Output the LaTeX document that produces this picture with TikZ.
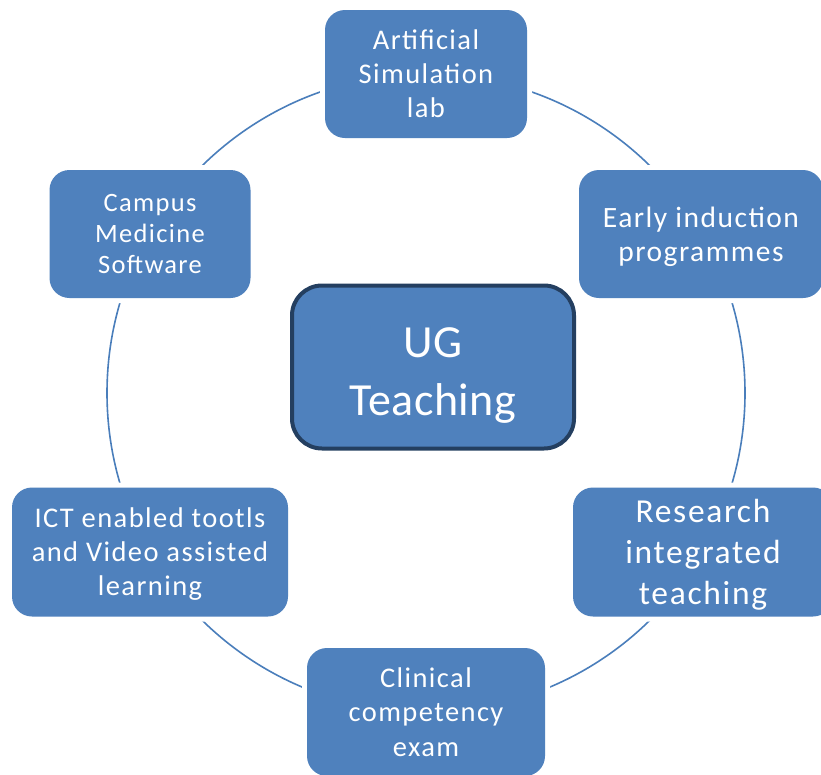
\documentclass[tikz,border=0pt]{standalone}
\usepackage{fontspec}
\setmainfont{Carlito}[LetterSpace=5]
\newfontfamily\hubfont{Carlito}[LetterSpace=1]
\definecolor{boxblue}{HTML}{4F81BD}
\definecolor{ringblue}{HTML}{4A7EBB}
\definecolor{hubnavy}{HTML}{243F60}

\begin{document}
\begin{tikzpicture}[x=1pt, y=-1pt,
  item/.style={fill=boxblue, text=white, align=center, inner sep=0pt,
    text depth=0pt, rounded corners=20pt, minimum height=128pt,
    preaction={draw=white, line width=10pt}},
  ]
  \clip (0,0) rectangle (821,774);

  % ring
  \draw[ringblue, line width=1.6pt] (426,393) circle (319pt);

  % outer boxes
  \node[item, minimum width=202pt, font=\fontsize{28.5}{34}\selectfont]
    (simlab) at (426,74) {Artificial\\Simulation\\lab};
  \node[item, minimum width=244pt, font=\fontsize{29.5}{34}\selectfont]
    (induction) at (701,234) {Early induction\\programmes};
  \node[item, minimum width=260pt, minimum height=129pt, font=\fontsize{33.5}{41}\selectfont]
    (research) at (703,552) {Research\\integrated\\teaching};
  \node[item, minimum width=238pt, font=\fontsize{28.5}{34.5}\selectfont]
    (clinical) at (426,712) {Clinical\\competency\\exam};
  \node[item, minimum width=276pt, minimum height=129pt, font=\fontsize{28.5}{34}\selectfont]
    (ict) at (150,552) {ICT enabled tootls\\and Video assisted\\learning};
  \node[item, minimum width=201pt, font=\fontsize{26.5}{31}\selectfont]
    (campus) at (150,234) {Campus\\Medicine\\Software};

  % hub
  \node[fill=boxblue, draw=hubnavy, line width=4pt, text=white, align=center,
    rounded corners=30pt, inner sep=0pt, text height=96pt, text depth=0pt,
    minimum width=282pt, minimum height=163pt,
    font=\hubfont\fontsize{46}{58}\selectfont]
    (hub) at (433,367) {UG\\Teaching};
\end{tikzpicture}
\end{document}
